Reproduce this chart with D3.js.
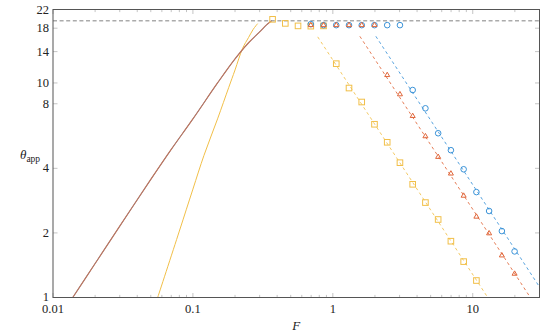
<!DOCTYPE html>
<html>
<head>
<meta charset="utf-8">
<script src="https://cdn.jsdelivr.net/npm/d3@7"></script>
<style>
  body { margin: 0; background: #fff; }
</style>
</head>
<body>
<script>
// solid curves
var brownF = [0.01384, 0.02, 0.03, 0.05, 0.07, 0.1, 0.15, 0.2, 0.25, 0.3, 0.336, 0.365];
var brownTheta = [1, 1.44, 2.15, 3.55, 4.9, 6.8, 10.0, 12.95, 15.4, 17.3, 18.65, 19.5];
var yellowF = [0.056, 0.08, 0.1, 0.12, 0.15, 0.18, 0.2, 0.2265, 0.25, 0.27, 0.29];
var yellowTheta = [1, 2.04, 3.2, 4.6, 6.8, 9.5, 11.5, 14.5, 16.3, 17.8, 18.9];

// markers
var squareF = [0.371, 0.4575, 0.564, 0.696, 0.858, 1.058, 1.305, 1.609, 1.985, 2.447, 3.018, 3.722, 4.59, 5.66, 6.98, 8.61, 10.62];
var squareTheta = [19.8, 18.95, 18.45, 18.4, 18.45, 12.3, 9.47, 8.15, 6.42, 5.29, 4.25, 3.37, 2.77, 2.31, 1.83, 1.47, 1.2];
var triF = [0.696, 0.858, 1.058, 1.305, 1.609, 1.985, 2.447, 3.018, 3.722, 4.59, 5.66, 6.98, 8.61, 10.62, 13.09, 16.15, 19.91];
var triTheta = [18.6, 18.6, 18.6, 18.6, 18.6, 18.6, 10.88, 8.85, 7.01, 5.64, 4.52, 3.78, 2.98, 2.38, 1.99, 1.57, 1.29];
var circF = [0.696, 0.858, 1.058, 1.305, 1.609, 1.985, 2.447, 3.018, 3.722, 4.59, 5.66, 6.98, 8.61, 10.62, 13.09, 16.15, 19.91];
var circTheta = [18.8, 18.6, 18.6, 18.6, 18.6, 18.6, 18.6, 18.6, 9.27, 7.62, 5.83, 4.86, 3.96, 3.1, 2.53, 2.04, 1.64];

// dashed fit lines (end points)
var yellowFitF = [0.78, 12.8], yellowFitTheta = [16.4, 1];
var redFitF = [1.56, 25.8], redFitTheta = [16.5, 1];
var blueFitF = [2.03, 30], blueFitTheta = [16.5, 1.12];
var limitTheta = 19.5;

var xTicks = [0.01, 0.1, 1, 10];
var yTicks = [1, 2, 4, 8, 10, 14, 18, 22];

var width = 540, height = 335;
var margin = { top: 9.5, right: 0.5, bottom: 37.5, left: 53 };
var w = width - margin.left - margin.right,
    h = height - margin.top - margin.bottom;

var blue = "#3b93d8", red = "#e0663a", yellow = "#f1bf48";
var serif = "Liberation Serif, DejaVu Serif, serif";

var svg = d3.select("body").append("svg")
    .attr("width", width)
    .attr("height", height);

var x = d3.scaleLog().domain([0.01, 30]).range([0, w]);
var y = d3.scaleLog().domain([1, 22]).range([h, 0]);

var g = svg.append("g")
    .attr("transform", "translate(" + margin.left + "," + margin.top + ")");

svg.append("defs").append("clipPath").attr("id", "clip")
  .append("rect").attr("width", w).attr("height", h);

// minor x ticks
var minorX = [];
[0.01, 0.1, 1, 10].forEach(function (d) {
  for (var i = 2; i <= 9; i++) if (d * i <= 30) minorX.push(d * i);
});

var tickColor = "#b5b5b5";
function xTickMarks(y0, dir) {
  g.selectAll(null).data(xTicks).enter().append("line")
    .attr("x1", d => x(d)).attr("x2", d => x(d))
    .attr("y1", y0).attr("y2", y0 + dir * 4.5)
    .attr("stroke", tickColor).attr("stroke-width", 0.8);
  g.selectAll(null).data(minorX).enter().append("line")
    .attr("x1", d => x(d)).attr("x2", d => x(d))
    .attr("y1", y0).attr("y2", y0 + dir * 2.6)
    .attr("stroke", tickColor).attr("stroke-width", 0.8);
}
xTickMarks(h, -1);
xTickMarks(0, 1);

function yTickMarks(x0, dir) {
  g.selectAll(null).data(yTicks).enter().append("line")
    .attr("x1", x0).attr("x2", x0 + dir * 4.5)
    .attr("y1", d => y(d)).attr("y2", d => y(d))
    .attr("stroke", tickColor).attr("stroke-width", 0.8);
}
yTickMarks(0, 1);
yTickMarks(w, -1);

// tick labels
g.selectAll(null).data(xTicks).enter().append("text")
  .attr("x", d => x(d)).attr("y", h + 15.5)
  .attr("text-anchor", "middle")
  .attr("font-family", serif).attr("font-size", 12.5).attr("fill", "#222")
  .text(d => d);
g.selectAll(null).data(yTicks).enter().append("text")
  .attr("x", -4).attr("y", d => y(d) + (d === 1 ? 3.2 : 4))
  .attr("text-anchor", "end")
  .attr("font-family", serif).attr("font-size", 12.5).attr("fill", "#222")
  .text(d => d);

// axis labels
svg.append("text")
  .attr("x", margin.left + w / 2).attr("y", 330)
  .attr("text-anchor", "middle")
  .attr("font-family", serif).attr("font-size", 13).attr("font-style", "italic")
  .attr("fill", "#222")
  .text("F");
var yl = svg.append("text").attr("x", 20).attr("y", 159)
  .attr("font-family", serif).attr("font-size", 13).attr("fill", "#222");
yl.append("tspan").attr("font-style", "italic").text("θ");
yl.append("tspan").attr("dy", 3).attr("font-size", 9.5).text("app");

var plot = g.append("g").attr("clip-path", "url(#clip)");

// limit line
plot.append("line")
  .attr("x1", 0).attr("x2", w)
  .attr("y1", y(limitTheta)).attr("y2", y(limitTheta))
  .attr("stroke", "#ababab").attr("stroke-width", 1.3)
  .attr("stroke-dasharray", "4,2.6");

var line = d3.line()
  .x(d => x(d[0])).y(d => y(d[1]))
  .curve(d3.curveCatmullRom.alpha(0.5));

function zip(a, b) { return a.map((d, i) => [d, b[i]]); }

// fit lines
[[yellowFitF, yellowFitTheta, yellow], [redFitF, redFitTheta, red], [blueFitF, blueFitTheta, blue]]
  .forEach(function (s) {
    plot.append("path")
      .attr("d", d3.line().x(d => x(d[0])).y(d => y(d[1]))(zip(s[0], s[1])))
      .attr("fill", "none").attr("stroke", s[2])
      .attr("stroke-width", 1).attr("stroke-opacity", 0.85)
      .attr("stroke-dasharray", "3,3");
  });

// solid curves
plot.append("path").attr("d", line(zip(yellowF, yellowTheta)))
  .attr("fill", "none").attr("stroke", yellow).attr("stroke-width", 1);
plot.append("path").attr("d", line(zip(brownF, brownTheta)))
  .attr("fill", "none").attr("stroke", blue).attr("stroke-width", 0.8);
plot.append("path").attr("d", line(zip(brownF, brownTheta)))
  .attr("fill", "none").attr("stroke", "#c0745a").attr("stroke-width", 1.2);

// markers
plot.selectAll(".sq").data(zip(squareF, squareTheta)).enter().append("rect")
  .attr("x", d => x(d[0]) - 2.8).attr("y", d => y(d[1]) - 2.8)
  .attr("width", 5.6).attr("height", 5.6)
  .attr("fill", "none").attr("stroke", yellow).attr("stroke-width", 1);
plot.selectAll(".ci").data(zip(circF, circTheta)).enter().append("circle")
  .attr("cx", d => x(d[0])).attr("cy", d => y(d[1])).attr("r", 2.8)
  .attr("fill", "none").attr("stroke", blue).attr("stroke-width", 1);
var tri = d3.symbol().type(d3.symbolTriangle).size(11);
plot.selectAll(".tr").data(zip(triF, triTheta)).enter().append("path")
  .attr("d", tri)
  .attr("transform", d => "translate(" + x(d[0]) + "," + y(d[1]) + ")")
  .attr("fill", "none").attr("stroke", red).attr("stroke-width", 1);

// frame
g.append("rect").attr("width", w).attr("height", h)
  .attr("fill", "none").attr("stroke", "#555").attr("stroke-width", 1);
</script>
</body>
</html>
